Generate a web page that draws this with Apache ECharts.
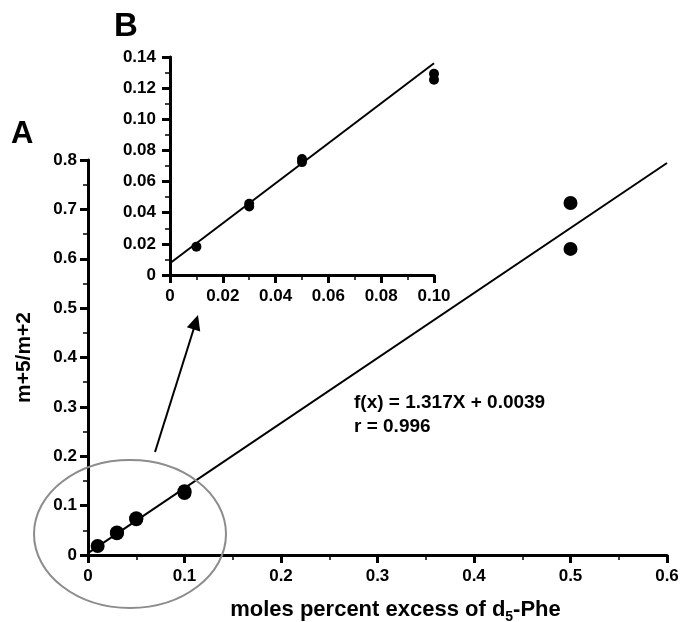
<!DOCTYPE html>
<html>
<head>
<meta charset="utf-8">
<script src="https://cdn.jsdelivr.net/npm/echarts@6/dist/echarts.min.js"></script>
<style>
  html, body { margin: 0; padding: 0; background: #fff; }
  #chart { width: 682px; height: 622px; }
</style>
</head>
<body>
<div id="chart"></div>
<script>
  // 数据: moles percent excess of d5-Phe vs m+5/m+2
  const pheExcess = [0.01, 0.03, 0.03, 0.05, 0.05, 0.10, 0.10, 0.50, 0.50]
  const ratio = [0.0182, 0.0440, 0.0457, 0.0725, 0.0745, 0.1254, 0.1293, 0.713, 0.620]
  // 拟合线端点
  const fitLineA = [[0, 0.0039], [0.6, 0.794]]
  const fitLineB = [[0, 0.0075], [0.1, 0.136]]
  const insetMaxX = 0.10
  const fitText = ['f(x) = 1.317X + 0.0039', 'r = 0.996']

  const FONT = 'Liberation Sans, Arial, Helvetica, sans-serif'
  const black = '#000'

  let pointsA = pheExcess.map((x, i) => [x, ratio[i]])
  let pointsB = pointsA.filter(p => p[0] <= insetMaxX)

  let fmtInset = v => (v === 0 ? '0' : v.toFixed(2))

  function axisBase(extra) {
    return Object.assign({
      axisLine: { show: true, onZero: false, lineStyle: { color: black, width: 3 } },
      axisTick: { show: true, inside: false, length: 8, lineStyle: { color: black, width: 3 } },
      minorTick: { show: true, splitNumber: 2, length: 5, lineStyle: { color: black, width: 1.5 } },
      splitLine: { show: false },
      axisLabel: { color: black, fontSize: 17, fontWeight: 'bold', fontFamily: FONT }
    }, extra)
  }

  let chart = echarts.init(document.getElementById('chart'))
  let option = {
    animation: false,
    backgroundColor: '#fff',
    textStyle: { fontFamily: FONT },
    grid: [
      { left: 88, right: 15, top: 160, bottom: 67, outerBoundsMode: 'none', containLabel: false },
      { left: 170, top: 57, width: 264, height: 218, outerBoundsMode: 'none', containLabel: false }
    ],
    xAxis: [
      axisBase({
        gridIndex: 0, type: 'value', min: 0, max: 0.6, interval: 0.1,
        axisLabel: { color: black, fontSize: 17, fontWeight: 'bold', fontFamily: FONT, margin: 13 },
        name: 'moles percent excess of d{sub|5}-Phe',
        nameLocation: 'middle',
        nameGap: 41,
        nameTextStyle: {
          color: black, fontSize: 22, fontWeight: 'bold', fontFamily: FONT,
          padding: [0, 0, 0, 36],
          rich: { sub: { fontSize: 14, fontWeight: 'bold', fontFamily: FONT, padding: [14, 0, 0, 0] } }
        }
      }),
      axisBase({
        gridIndex: 1, type: 'value', min: 0, max: 0.1, interval: 0.02,
        axisLabel: { color: black, fontSize: 17, fontWeight: 'bold', fontFamily: FONT, margin: 13, formatter: fmtInset }
      })
    ],
    yAxis: [
      axisBase({
        gridIndex: 0, type: 'value', min: 0, max: 0.8, interval: 0.1,
        axisLabel: { color: black, fontSize: 17, fontWeight: 'bold', fontFamily: FONT, margin: 11 },
        name: 'm+5/m+2',
        nameLocation: 'middle',
        nameGap: 53,
        nameTextStyle: { color: black, fontSize: 21, fontWeight: 'bold', fontFamily: FONT }
      }),
      axisBase({
        gridIndex: 1, type: 'value', min: 0, max: 0.14, interval: 0.02,
        axisLabel: { color: black, fontSize: 17, fontWeight: 'bold', fontFamily: FONT, margin: 14, formatter: fmtInset }
      })
    ],
    series: [
      {
        name: 'fitA', type: 'line', xAxisIndex: 0, yAxisIndex: 0,
        data: fitLineA, symbol: 'none',
        lineStyle: { color: black, width: 2 }
      },
      {
        name: 'A', type: 'scatter', xAxisIndex: 0, yAxisIndex: 0,
        data: pointsA, symbolSize: 14,
        itemStyle: { color: black, opacity: 1 }
      },
      {
        name: 'fitB', type: 'line', xAxisIndex: 1, yAxisIndex: 1,
        data: fitLineB, symbol: 'none',
        lineStyle: { color: black, width: 2 }
      },
      {
        name: 'B', type: 'scatter', xAxisIndex: 1, yAxisIndex: 1,
        data: pointsB, symbolSize: 10,
        itemStyle: { color: black, opacity: 1 }
      }
    ],
    graphic: [
      {
        type: 'text', left: 11, top: 119,
        style: { text: 'A', fill: black, font: 'bold 31px ' + FONT }
      },
      {
        type: 'text', left: 114, top: 10,
        style: { text: 'B', fill: black, font: 'bold 33px ' + FONT }
      },
      {
        type: 'text', left: 354, top: 393,
        style: { text: fitText[0], fill: black, font: 'bold 19px ' + FONT }
      },
      {
        type: 'text', left: 354, top: 417,
        style: { text: fitText[1], fill: black, font: 'bold 19px ' + FONT }
      },
      // 椭圆圈
      {
        type: 'ellipse', z: 100,
        shape: { cx: 130, cy: 534, rx: 96, ry: 74 },
        style: { fill: 'none', stroke: '#8c8c8c', lineWidth: 2 }
      },
      // 箭头
      {
        type: 'line', z: 100,
        shape: { x1: 155, y1: 452, x2: 194, y2: 328 },
        style: { stroke: black, lineWidth: 2 }
      },
      {
        type: 'polygon', z: 100,
        shape: { points: [[198, 315], [200.2, 331.4], [186.8, 327.2]] },
        style: { fill: black }
      }
    ]
  }
  chart.setOption(option, true)
</script>
</body>
</html>
